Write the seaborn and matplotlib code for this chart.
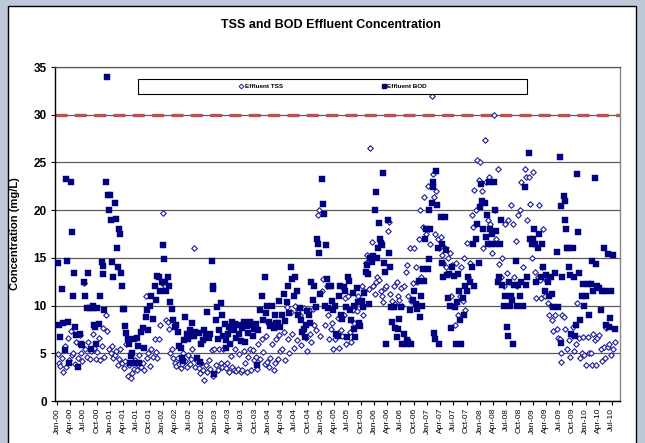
import pandas as pd
import matplotlib
matplotlib.use("Agg")
import matplotlib.pyplot as plt
import matplotlib.dates as mdates
from matplotlib.patches import Rectangle
from matplotlib.lines import Line2D
import seaborn as sns

# monthly readings (mg/L), one inner list per month, Jan..Dec
tss_2000 = [[4.9, 4.0, 3.7], [4.5, 3.0, 5.8], [3.6, 6.6, 4.3], [7.3, 4.8, 5.0],
            [3.9, 6.2, 4.5], [6.9, 5.0, 4.2], [12.4, 5.5, 4.6], [6.2, 4.4, 5.2],
            [7.0, 5.6, 4.4], [5.1, 6.6, 4.3], [5.8, 7.7, 4.6], [9.0, 7.3, 5.4]]
bod_2000 = [[14.5, 8.0, 6.7], [11.7, 8.2, 5.3], [23.3, 14.7, 8.3, 4.0], [23.0, 17.7, 11.0, 13.4],
            [7.8, 6.9, 3.6], [7.0, 6.0, 5.9], [12.5, 11.0, 9.7], [13.4, 9.7, 5.4],
            [10.0, 9.7, 8.0, 7.8, 6.0], [9.7, 8.1, 11.0], [14.6, 14.1, 13.3, 9.5], [23.0, 34.0, 21.6, 20.0]]

tss_2001 = [[5.0, 5.8, 4.5], [4.8, 5.2, 3.8], [4.4, 5.5, 4.0], [3.5, 4.2, 6.0],
            [2.6, 3.8, 2.4], [2.9, 3.4, 4.3], [3.2, 3.8, 4.8], [3.6, 4.0, 3.3],
            [11.0, 4.5, 5.0], [3.7, 5.5, 4.6], [6.5, 5.1, 4.5], [6.5, 8.0, 12.4]]
bod_2001 = [[21.6, 19.0, 14.6, 13.0], [20.8, 19.1, 16.0, 14.0], [18.0, 17.5, 13.4, 12.0], [9.6, 9.6, 7.9, 7.1],
            [6.5, 6.0, 4.0, 4.7], [5.0, 6.5, 4.0], [6.6, 5.8, 4.0], [7.2, 7.6, 5.6],
            [8.8, 9.5, 7.4], [10.0, 11.0, 8.6], [12.0, 10.6, 13.1], [13.0, 11.5, 12.5]]

tss_2002 = [[19.7, 12.0, 8.5], [8.3, 7.5, 5.0], [5.4, 4.5, 4.0], [3.7, 4.5, 3.9],
            [3.5, 3.9, 5.0], [4.2, 3.6, 4.8], [3.9, 4.4, 5.5], [16.0, 3.6, 4.2],
            [3.5, 2.9, 4.0], [3.3, 2.2, 3.8], [3.0, 4.3, 3.4], [5.3, 2.6, 5.5]]
bod_2002 = [[16.3, 14.9, 12.5, 11.5], [13.0, 12.0, 10.4], [9.6, 8.5, 7.8], [8.0, 7.2, 5.8],
            [5.6, 4.5, 4.2, 6.4], [8.8, 7.0, 6.5], [7.4, 6.8, 8.2], [6.8, 7.2, 4.5],
            [7.1, 4.1, 6.0], [6.4, 7.4, 6.9], [9.3, 6.6, 7.0], [14.7, 12.0, 11.7, 2.8]]

tss_2003 = [[3.8, 3.3, 5.4], [4.0, 3.6, 5.5], [3.8, 3.5, 4.0], [3.0, 4.7, 3.6],
            [3.3, 5.5, 3.1], [3.4, 4.9, 3.0], [3.2, 5.2, 4.0], [3.0, 4.6, 5.5],
            [3.3, 5.3, 4.3], [4.6, 3.4, 6.0], [4.4, 6.5, 5.1], [3.9, 6.8, 4.1]]
bod_2003 = [[8.5, 9.9, 6.5, 7.4], [10.3, 9.0, 6.8], [8.1, 6.4, 5.6, 7.0], [7.8, 6.0, 7.5, 8.3],
            [7.4, 8.1, 6.6], [8.0, 7.0, 6.3], [7.7, 8.3, 6.2], [7.9, 7.1, 8.3],
            [8.0, 6.8, 7.5], [8.1, 3.8, 7.4], [9.5, 11.0, 8.5], [13.0, 9.2, 10.0]]

tss_2004 = [[3.6, 4.5, 6.0], [3.2, 4.0, 6.5], [4.4, 6.9, 5.2], [5.5, 7.2, 4.3],
            [9.8, 6.5, 5.0], [9.3, 7.0, 5.6], [10.0, 6.4, 9.5], [9.0, 5.9, 7.2],
            [9.7, 6.6, 5.2], [9.5, 7.0, 6.2], [9.6, 8.0, 7.4], [19.5, 20.0, 6.8]]
bod_2004 = [[8.3, 7.9, 10.0], [8.0, 7.7, 9.0, 8.2], [8.2, 10.5, 7.8], [9.0, 11.2, 8.4],
            [10.4, 12.0, 9.2], [14.0, 12.8, 11.0], [13.0, 11.5, 9.0], [9.7, 8.5, 7.2],
            [7.5, 6.7, 8.0, 9.4], [9.0, 8.2, 12.5], [10.6, 12.0, 9.8], [17.0, 16.5, 15.5, 11.2]]

tss_2005 = [[11.5, 12.8, 8.0], [12.0, 9.0, 6.5], [7.5, 8.2, 5.5], [6.5, 7.0, 8.7],
            [5.6, 7.4, 6.8], [9.0, 10.8, 6.0], [11.0, 7.2, 6.2], [9.5, 8.2, 10.0],
            [9.4, 11.0, 10.5], [12.0, 9.0, 11.5], [14.5, 15.3, 11.7], [26.5, 16.7, 12.0]]
bod_2005 = [[23.3, 20.6, 19.6, 10.0], [16.3, 12.8, 9.7, 12.0], [12.0, 10.5, 9.5], [10.0, 7.0, 6.8],
            [11.0, 12.0, 9.0, 8.6], [11.9, 11.5, 9.8, 6.7], [13.0, 12.6, 9.5, 8.5], [11.3, 10.0, 7.5, 6.7],
            [11.8, 10.4, 8.2, 7.9], [10.5, 9.9, 11.3], [13.5, 14.2, 13.3, 10.2], [15.0, 14.6, 15.2]]

tss_2006 = [[11.2, 12.5, 13.0], [12.7, 11.5, 11.0], [10.4, 11.8, 12.0], [17.8, 18.8, 11.2],
            [10.5, 12.0, 10.2], [12.5, 11.0, 10.6], [11.8, 10.0, 12.0], [13.5, 14.2, 11.0],
            [16.0, 10.5, 12.4], [16.0, 14.0, 12.5], [17.0, 20.0, 13.0], [18.2, 21.4, 17.5]]
bod_2006 = [[20.0, 21.9, 15.0, 16.0], [18.7, 17.0, 16.6, 16.3], [23.9, 14.5, 13.5, 6.0], [19.0, 15.5, 14.0, 9.9],
            [8.3, 9.9, 7.6], [6.7, 7.5, 8.6], [9.9, 6.0, 7.0], [6.0, 6.4, 6.2],
            [9.5, 6.0, 10.6], [11.5, 10.2, 9.6], [12.6, 8.8, 11.0, 10.0], [13.8, 12.6, 17.0, 18.0]]

tss_2007 = [[22.5, 18.0, 16.5], [32.0, 23.8, 21.4, 17.5], [22.0, 17.0, 16.0], [17.2, 15.3, 14.5],
            [16.0, 14.0, 15.0], [15.5, 11.0, 14.2], [10.0, 8.0, 14.5], [9.0, 11.0, 14.0],
            [10.5, 15.0, 9.5], [16.6, 13.0, 14.5], [19.5, 18.2, 22.1], [20.0, 25.3, 23.2]]
bod_2007 = [[13.8, 14.9, 20.0, 18.0], [20.8, 22.4, 23.0, 7.1, 6.5], [24.1, 20.5, 16.0, 6.0], [19.3, 16.4, 14.5, 13.0],
            [19.3, 15.8, 13.2, 10.8], [13.3, 10.0, 7.6, 14.0], [13.1, 9.8, 6.0, 10.4], [13.3, 11.5, 8.5, 6.0],
            [10.8, 9.0, 12.0], [11.5, 13.0, 12.5], [14.0, 16.5, 12.0], [17.0, 18.5, 14.5]]

tss_2008 = [[25.0, 22.0, 16.0], [27.3, 23.0, 19.0], [23.5, 18.5, 15.5], [30.0, 20.0, 17.0],
            [24.3, 14.4, 13.0], [15.0, 12.0, 18.5], [13.4, 19.0, 12.5], [20.5, 18.5, 13.0],
            [16.8, 12.0, 19.5], [20.0, 23.0, 14.0], [24.3, 23.5, 19.0], [23.5, 20.6, 15.0]]
bod_2008 = [[20.3, 22.7, 21.0, 18.0], [20.8, 17.2, 19.5, 16.5], [23.0, 18.0, 16.5, 17.5], [23.0, 20.0, 16.5, 17.8],
            [12.5, 13.0, 16.5, 19.0], [12.2, 10.0, 11.0], [7.8, 6.8, 12.5, 10.0], [11.0, 10.6, 6.0, 12.2],
            [14.7, 10.0, 12.2], [11.0, 12.5, 10.0], [22.4, 12.2, 13.0], [26.0, 17.0, 16.5]]

tss_2009 = [[24.0, 13.5, 10.8], [13.0, 20.5, 12.7, 10.8], [14.0, 18.0, 13.0, 11.0], [12.7, 10.3, 9.0],
            [10.0, 8.5, 7.3], [9.0, 7.5, 6.6], [6.5, 5.0, 4.1, 9.0], [8.8, 7.5, 5.5],
            [6.4, 4.6, 7.0], [7.8, 5.2, 6.0], [10.3, 6.6, 4.5], [5.0, 6.7, 4.8]]
bod_2009 = [[17.0, 18.0, 16.5, 12.5], [16.0, 17.5, 13.0], [16.5, 14.0, 11.5], [13.2, 12.5, 11.0],
            [13.0, 11.2, 9.8], [13.4, 15.6, 9.8], [25.6, 20.4, 6.1, 13.0], [21.5, 21.0, 19.0, 18.0, 16.0],
            [16.0, 14.0, 13.2, 7.0], [16.0, 13.0, 6.8, 8.0], [23.8, 17.7, 13.4, 8.5], [11.0, 12.3, 10.0]]

tss_2010 = [[3.8, 6.7, 5.0], [5.0, 3.8, 7.0], [6.4, 3.8, 6.6], [6.9, 5.5, 4.2],
            [5.7, 4.5, 7.6], [5.7, 6.0, 4.8], [5.5, 6.2]]
bod_2010 = [[11.0, 12.3, 9.0], [12.3, 14.7, 11.5], [23.4, 14.4, 12.0], [11.8, 9.5, 11.5],
            [16.0, 11.5, 8.0], [15.4, 7.8, 8.7, 11.5], [15.3, 7.5]]

years = list(range(2000, 2011))
tss_years = [tss_2000, tss_2001, tss_2002, tss_2003, tss_2004, tss_2005,
             tss_2006, tss_2007, tss_2008, tss_2009, tss_2010]
bod_years = [bod_2000, bod_2001, bod_2002, bod_2003, bod_2004, bod_2005,
             bod_2006, bod_2007, bod_2008, bod_2009, bod_2010]

limit = 30
title = "TSS and BOD Effluent Concentration"
ylabel = "Concentration (mg/L)"


def build(year_lists, name):
    # spread the readings of each month over its days
    rows = []
    for year, months in zip(years, year_lists):
        for i, vals in enumerate(months):
            n = len(vals)
            for k, v in enumerate(vals):
                day = 1 + int(27 * (k + 0.5) / n)
                rows.append({"date": pd.Timestamp(year, i + 1, day), name: v})
    return pd.DataFrame(rows)


tss = build(tss_years, "TSS")
bod = build(bod_years, "BOD")

sns.set_style("ticks")
plt.rcParams["font.family"] = ["Liberation Sans", "DejaVu Sans"]
plt.rcParams.update({"text.color": "black", "axes.labelcolor": "black",
                     "xtick.color": "black", "ytick.color": "black"})

navy = "#000080"

fig = plt.figure(figsize=(6.45, 4.43), dpi=100)
fig.patch.set_facecolor("#bfc8d9")
fig.add_artist(Rectangle((8 / 645, -0.05), 628 / 645, 1.05 - 6 / 443,
                         transform=fig.transFigure, facecolor="white",
                         edgecolor="black", lw=1.0, zorder=-5))

ax = fig.add_axes([55 / 645, 1 - 401 / 443, 565 / 645, 334 / 443])
ax.set_facecolor("white")

sns.scatterplot(data=tss, x="date", y="TSS", marker="D", s=8, color="white",
                edgecolor="#1c1c9a", linewidth=0.8, ax=ax, zorder=3)
sns.scatterplot(data=bod, x="date", y="BOD", marker="s", s=17, color=navy,
                edgecolor=navy, linewidth=0.3, ax=ax, zorder=4)

ax.axhline(limit, color="#c0504d", lw=2.4, ls=(0, (3.6, 2.2)), zorder=2)

ax.set_ylim(0, 35)
ax.set_yticks(range(0, 36, 5))
ax.set_xlim(pd.Timestamp(1999, 12, 18), pd.Timestamp(2010, 8, 26))
ax.xaxis.set_major_locator(mdates.MonthLocator(bymonth=[1, 4, 7, 10]))
ax.xaxis.set_major_formatter(mdates.DateFormatter("%b-%y"))

ax.yaxis.grid(True, color="#5a5a5a", lw=0.9, zorder=1)
ax.set_axisbelow(True)

for lab in ax.get_xticklabels():
    lab.set_rotation(90)
    lab.set_fontsize(6)
    lab.set_color("black")
for lab in ax.get_yticklabels():
    lab.set_fontsize(8.5)
    lab.set_fontweight("bold")
    lab.set_color("black")
ax.tick_params(axis="x", length=3, width=0.8, color="black", labelcolor="black", pad=2)
ax.tick_params(axis="y", length=3, width=0.8, color="black", labelcolor="black", pad=3)

ax.set_xlabel("")
ax.set_ylabel(ylabel, fontsize=8, fontweight="bold", color="black")
ax.yaxis.set_label_coords(-0.062, 0.5)

for side in ["left", "bottom"]:
    ax.spines[side].set_color("black")
    ax.spines[side].set_linewidth(1.0)
ax.spines["top"].set_color("#5a5a5a")
ax.spines["top"].set_linewidth(0.9)
ax.spines["right"].set_color("#888888")
ax.spines["right"].set_linewidth(1.0)

# legend box across the top
ax.add_patch(Rectangle((0.147, 0.919), 0.688, 0.045, transform=ax.transAxes,
                       facecolor="white", edgecolor="black", lw=0.8, zorder=5))
handles = [
    Line2D([], [], marker="D", ls="", markerfacecolor="white",
           markeredgecolor="#1c1c9a", markersize=2.4, markeredgewidth=0.7),
    Line2D([], [], marker="s", ls="", color=navy, markersize=3.2),
]
leg = ax.legend(handles, ["Effluent TSS", "Effluent BOD"], ncol=2, loc="center",
                bbox_to_anchor=(0.492, 0.942), frameon=False, fontsize=4.6,
                handlelength=0.6, handletextpad=0.3, columnspacing=15.5,
                borderpad=0, borderaxespad=0)
leg.set_zorder(6)
for t in leg.get_texts():
    t.set_fontweight("bold")
    t.set_color("black")

fig.text(0.513, 1 - 25 / 443, title, ha="center", va="center",
         fontsize=9, fontweight="bold", color="black")

fig.savefig("out.png", dpi=100, facecolor=fig.get_facecolor())
